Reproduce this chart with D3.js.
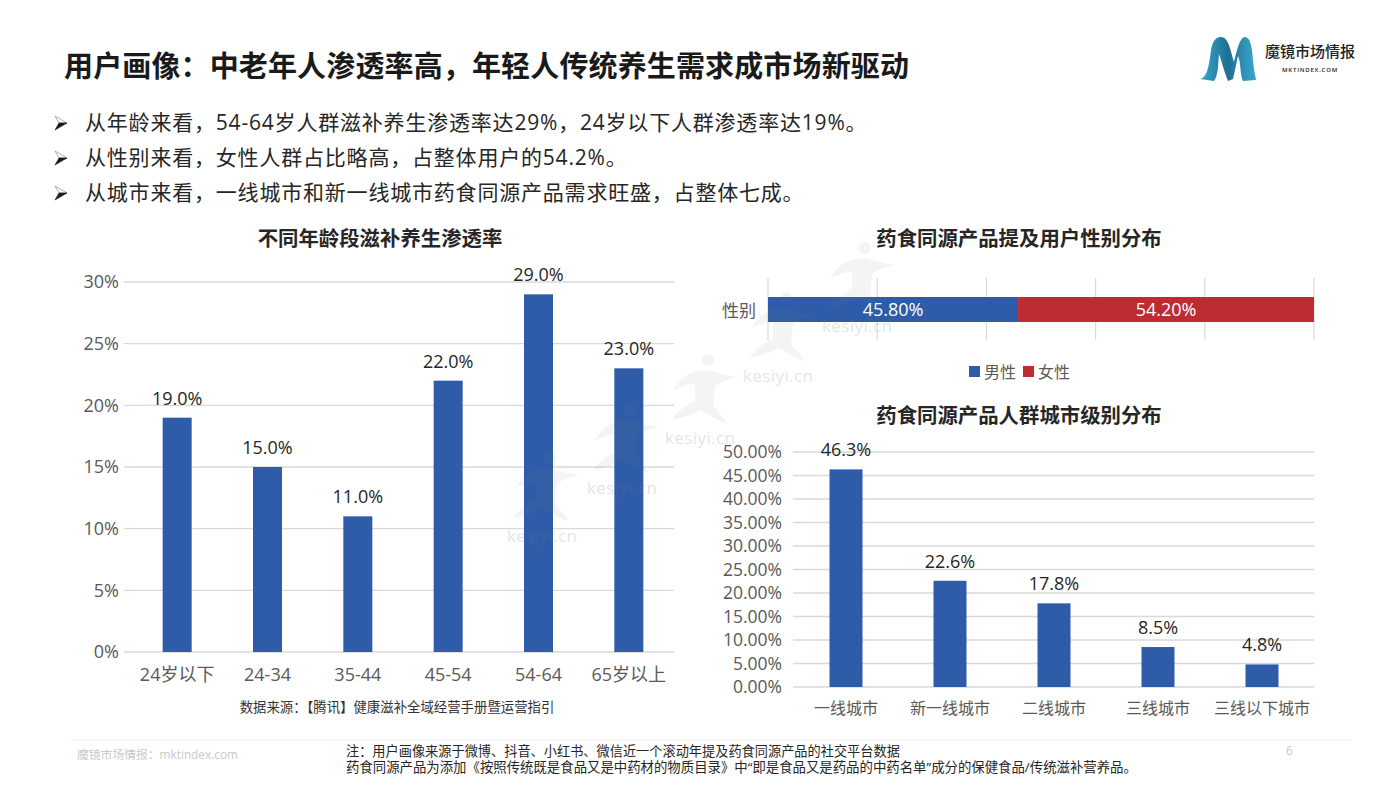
<!DOCTYPE html>
<html>
<head>
<meta charset="utf-8">
<script src="https://cdn.jsdelivr.net/npm/d3@7"></script>
<style>
html, body { margin: 0; padding: 0; background: #fff; }
svg { display: block; }
text { font-family: "Open Sans", "Noto Sans CJK SC", sans-serif; }
</style>
</head>
<body>
<svg width="1400" height="788"></svg>
<script>
var titleText = "用户画像：中老年人渗透率高，年轻人传统养生需求成市场新驱动";
var bullets = [
    "从年龄来看，54-64岁人群滋补养生渗透率达29%，24岁以下人群渗透率达19%。",
    "从性别来看，女性人群占比略高，占整体用户的54.2%。",
    "从城市来看，一线城市和新一线城市药食同源产品需求旺盛，占整体七成。"
];

var ageNames = ["24岁以下", "24-34", "35-44", "45-54", "54-64", "65岁以上"];
var ageValues = [19, 15, 11, 22, 29, 23];
var ageTicks = [0, 5, 10, 15, 20, 25, 30];

var genderNames = ["男性", "女性"];
var genderValues = [45.8, 54.2];
var genderTicks = [0, 20, 40, 60, 80, 100];

var cityNames = ["一线城市", "新一线城市", "二线城市", "三线城市", "三线以下城市"];
var cityValues = [46.3, 22.6, 17.8, 8.5, 4.8];
var cityTicks = [0, 5, 10, 15, 20, 25, 30, 35, 40, 45, 50];

var watermarks = [[507, 450], [587, 402], [665, 352], [743, 290], [822, 240]];

var blue = "#2e5ca8", red = "#bd2c33", grid = "#d9d9d9", axisText = "#595959";
var svg = d3.select("svg");

// header
svg.append("text").attr("x", 64).attr("y", 77)
    .attr("fill", "#1a1a1a").style("font-size", "29px").style("font-weight", "700")
    .style("letter-spacing", "0.14px").text(titleText);

var bulletRows = svg.selectAll(".bullet").data(bullets).enter().append("g").attr("class", "bullet")
    .attr("transform", function(d, i) { return "translate(0," + (130 + i * 35) + ")"; });
// arrow head: pale upper half, dark lower half
bulletRows.append("path").attr("d", "M55 -14 L67 -7 L59 -7 Z").attr("fill", "#fff")
    .attr("stroke", "#9a9a9a").attr("stroke-width", 0.8);
bulletRows.append("path").attr("d", "M55 0 L67 -7 L59 -7 Z").attr("fill", "#1a1a1a")
    .attr("stroke", "#1a1a1a").attr("stroke-width", 0.6);
bulletRows.append("text").attr("x", 85).attr("fill", "#262626")
    .style("font-size", "21px").style("letter-spacing", "0.8px").text(function(d) { return d; });

// logo
var defs = svg.append("defs");
var lg = defs.append("linearGradient").attr("id", "logoFill");
lg.append("stop").attr("offset", "0").attr("stop-color", "#39a9cf");
lg.append("stop").attr("offset", "0.5").attr("stop-color", "#1f6f93");
lg.append("stop").attr("offset", "1").attr("stop-color", "#39a9cf");
svg.append("path").attr("fill", "url(#logoFill)")
    .attr("d", "M1200 79 C1207 78 1209 66 1211 50 C1213 39 1217 37 1221 37 C1228 37 1230 48 1234 62 C1237 50 1240 37 1245 37 C1250 37 1252 46 1253 60 C1254 72 1256 78 1256 80 L1243 81 C1240 76 1241 62 1238 56 L1233 79 L1228 81 C1224 72 1222 62 1219 54 C1218 66 1218 76 1214 81 Z");
svg.append("text").attr("x", 1265).attr("y", 57).attr("fill", "#222")
    .style("font-size", "15px").style("font-weight", "500").text("魔镜市场情报");
svg.append("text").attr("x", 1282).attr("y", 72).attr("fill", "#222")
    .style("font-size", "6px").style("font-weight", "600").style("letter-spacing", "0.8px").text("MKTINDEX.COM");

function chartTitle(x, y, s) {
    svg.append("text").attr("x", x).attr("y", y).attr("text-anchor", "middle")
        .attr("fill", "#262626").style("font-size", "20.4px").style("font-weight", "700").text(s);
}
chartTitle(380, 246, "不同年龄段滋补养生渗透率");
chartTitle(1019, 246, "药食同源产品提及用户性别分布");
chartTitle(1019, 423, "药食同源产品人群城市级别分布");

// vertical bar chart, used for both age and city panels
function columnChart(cfg) {
    var x = d3.scaleBand().domain(cfg.names).range([cfg.left, cfg.right]);
    var y = d3.scaleLinear().domain(cfg.domain).range([cfg.bottom, cfg.top]);
    var g = svg.append("g");

    g.selectAll(".gl").data(cfg.ticks).enter().append("line")
        .attr("x1", cfg.gridLeft).attr("x2", cfg.right)
        .attr("y1", function(d) { return y(d); }).attr("y2", function(d) { return y(d); })
        .attr("stroke", grid).attr("stroke-width", 1.3);

    var yAxis = d3.axisLeft(y).tickValues(cfg.ticks).tickSize(0).tickPadding(0).tickFormat(cfg.tickFormat);
    var ya = g.append("g").attr("transform", "translate(" + cfg.labelX + ",0)").call(yAxis);
    ya.select(".domain").remove();
    ya.selectAll("text").attr("fill", axisText).style("font-size", cfg.fontSize + "px");

    var xAxis = d3.axisBottom(x).tickSize(0).tickPadding(cfg.xPad);
    var xa = g.append("g").attr("transform", "translate(0," + cfg.bottom + ")").call(xAxis);
    xa.select(".domain").remove();
    xa.selectAll("text").attr("fill", axisText).style("font-size", cfg.xFont + "px");

    g.selectAll(".bar").data(cfg.values).enter().append("rect")
        .attr("fill", blue)
        .attr("x", function(d, i) { return x(cfg.names[i]) + (x.bandwidth() - cfg.barWidth) / 2; })
        .attr("width", cfg.barWidth)
        .attr("y", function(d) { return y(d); })
        .attr("height", function(d) { return cfg.bottom - y(d); });

    g.selectAll(".val").data(cfg.values).enter().append("text")
        .attr("x", function(d, i) { return x(cfg.names[i]) + x.bandwidth() / 2; })
        .attr("y", function(d) { return y(d) - 20; })
        .attr("text-anchor", "middle").attr("dominant-baseline", "central")
        .attr("fill", "#262626").style("font-size", "18px")
        .text(function(d) { return d.toFixed(1) + "%"; });
}

columnChart({
    names: ageNames, values: ageValues, ticks: ageTicks, domain: [0, 30],
    left: 132, right: 674, gridLeft: 124, top: 282, bottom: 652,
    labelX: 119, barWidth: 29, fontSize: 18, xFont: 18, xPad: 16.5,
    tickFormat: function(d) { return d + "%"; }
});
columnChart({
    names: cityNames, values: cityValues, ticks: cityTicks, domain: [0, 50],
    left: 794, right: 1314, gridLeft: 793, top: 452, bottom: 687,
    labelX: 782, barWidth: 33, fontSize: 17.5, xFont: 16, xPad: 16,
    tickFormat: function(d) { return d.toFixed(2) + "%"; }
});

// stacked gender bar
var gx = d3.scaleLinear().domain([0, 100]).range([768, 1314]);
svg.selectAll(".ggl").data(genderTicks).enter().append("line")
    .attr("x1", function(d) { return gx(d); }).attr("x2", function(d) { return gx(d); })
    .attr("y1", 278).attr("y2", 340).attr("stroke", grid).attr("stroke-width", 1.2);
svg.append("text").attr("x", 756).attr("y", 310).attr("text-anchor", "end").attr("dominant-baseline", "central")
    .attr("fill", axisText).style("font-size", "17px").text("性别");

var stackStart = d3.cumsum([0].concat(genderValues));
svg.selectAll(".seg").data(genderValues).enter().append("rect")
    .attr("x", function(d, i) { return gx(stackStart[i]); })
    .attr("width", function(d) { return gx(d) - gx(0); })
    .attr("y", 297).attr("height", 25)
    .attr("fill", function(d, i) { return i === 0 ? blue : red; });
svg.selectAll(".segl").data(genderValues).enter().append("text")
    .attr("x", function(d, i) { return gx(stackStart[i] + d / 2); })
    .attr("y", 309).attr("text-anchor", "middle").attr("dominant-baseline", "central")
    .attr("fill", "#fff").style("font-size", "18px")
    .text(function(d) { return d.toFixed(2) + "%"; });

var legend = svg.selectAll(".lg").data(genderNames).enter().append("g")
    .attr("transform", function(d, i) { return "translate(" + (969 + i * 54) + ",366)"; });
legend.append("rect").attr("width", 11).attr("height", 11)
    .attr("fill", function(d, i) { return i === 0 ? blue : red; });
legend.append("text").attr("x", 15).attr("y", 5.5).attr("dominant-baseline", "central")
    .attr("fill", axisText).style("font-size", "16px").text(function(d) { return d; });

// footer
svg.append("text").attr("x", 397).attr("y", 712).attr("text-anchor", "middle")
    .attr("fill", "#333").style("font-size", "13.4px").text("数据来源：【腾讯】健康滋补全域经营手册暨运营指引");
svg.append("line").attr("x1", 70).attr("x2", 1352).attr("y1", 740).attr("y2", 740)
    .attr("stroke", "#f0f0f0").attr("stroke-width", 1.2);
svg.append("text").attr("x", 77).attr("y", 759).attr("fill", "#c9c9c9")
    .style("font-size", "11.8px").text("魔镜市场情报：mktindex.com");
svg.append("text").attr("x", 346).attr("y", 756).attr("fill", "#262626")
    .style("font-size", "13.2px").text("注：用户画像来源于微博、抖音、小红书、微信近一个滚动年提及药食同源产品的社交平台数据");
svg.append("text").attr("x", 346).attr("y", 772).attr("fill", "#262626")
    .style("font-size", "13.4px").text("药食同源产品为添加《按照传统既是食品又是中药材的物质目录》中“即是食品又是药品的中药名单”成分的保健食品/传统滋补营养品。");
svg.append("text").attr("x", 1286).attr("y", 755).attr("fill", "#c9c9c9")
    .style("font-size", "12px").text("6");

// watermark sits on top, faint enough to show through the bars
var wmLayer = svg.append("g").attr("pointer-events", "none");
watermarks.forEach(function(p) {
    var g = wmLayer.append("g").attr("transform", "translate(" + p[0] + "," + p[1] + ")");
    g.append("circle").attr("cx", 43).attr("cy", 8).attr("r", 6).attr("fill", "#808080").attr("opacity", 0.09);
    g.append("path")
        .attr("d", "M8 38 C18 22 30 18 42 18 C52 20 60 24 73 25 C62 28 54 30 50 34 L48 54 C54 60 58 66 62 71 C54 70 44 62 36 58 C28 62 18 66 7 68 C10 60 22 54 30 48 L30 32 C22 32 14 36 8 38 Z")
        .attr("fill", "#808080").attr("opacity", 0.09);
    g.append("text").attr("x", 0).attr("y", 92).attr("fill", "#808080").attr("opacity", 0.2)
        .style("font-size", "17px").style("letter-spacing", "0.4px").text("kesiyi.cn");
});
</script>
</body>
</html>
